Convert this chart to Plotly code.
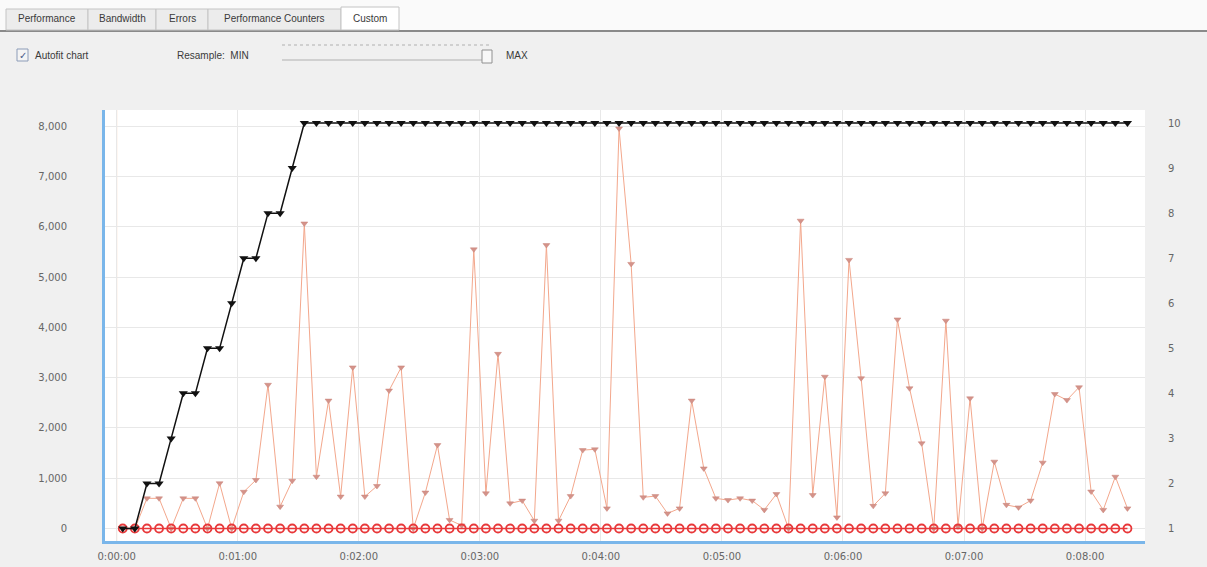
import plotly.graph_objects as go

# ---------------- data ----------------
sample_seconds = [3 + 6 * i for i in range(84)]

user_load = [1, 1, 2, 2, 3, 4, 4, 5, 5, 6, 7, 7, 8, 8, 9] + [10] * 69

orange_values = [
    0, 0, 600, 600, 0, 600, 600, 0, 900, 0,
    730, 965, 2860, 435, 950, 6070, 1030, 2545, 635, 3205,
    635, 845, 2745, 3205, 0, 715, 1660, 170, 60, 5555,
    700, 3475, 500, 555, 155, 5640, 155, 645, 1560, 1575,
    400, 7960, 5265, 620, 645, 300, 400, 2545, 1195, 600,
    565, 600, 555, 370, 685, 0, 6125, 665, 3020, 220,
    5345, 2990, 450, 700, 4160, 2790, 1695, 0, 4135, 40,
    2590, 0, 1330, 470, 420, 555, 1310, 2675, 2555, 2810,
    735, 370, 1030, 400,
]

error_values = [0] * 84

x_tick_seconds = [0, 60, 120, 180, 240, 300, 360, 420, 480]
x_tick_labels = ["0:00:00", "0:01:00", "0:02:00", "0:03:00", "0:04:00",
                 "0:05:00", "0:06:00", "0:07:00", "0:08:00"]
left_ticks = [0, 1000, 2000, 3000, 4000, 5000, 6000, 7000, 8000]
right_ticks = [1, 2, 3, 4, 5, 6, 7, 8, 9, 10]

tab_labels = ["Performance", "Bandwidth", "Errors", "Performance Counters", "Custom"]

# ---------------- layout geometry (pixels) ----------------
W, H = 1207, 567
L, R, T, B = 105, 1145, 110, 541


def px(x):
    return (x - L) / (R - L)


def py(y):
    return (B - y) / (B - T)


fig = go.Figure()

fig.add_trace(go.Scatter(
    x=sample_seconds, y=orange_values, mode="lines+markers",
    line=dict(color="#f3a78c", width=1),
    marker=dict(symbol="triangle-down", size=6, color="#d4938a",
                line=dict(color="#c98378", width=0.5)),
    showlegend=False, yaxis="y",
))

fig.add_trace(go.Scatter(
    x=sample_seconds, y=error_values, mode="lines+markers",
    line=dict(color="#e8383a", width=1.5),
    marker=dict(symbol="circle-open", size=8, color="#e8383a",
                line=dict(width=1.8)),
    showlegend=False, yaxis="y",
))

fig.add_trace(go.Scatter(
    x=sample_seconds, y=user_load, mode="lines+markers",
    line=dict(color="#111111", width=1.5),
    marker=dict(symbol="triangle-down", size=8, color="#111111"),
    showlegend=False, yaxis="y2",
))

font_axis = dict(family="DejaVu Sans", size=10, color="#666666")

fig.update_layout(
    width=W, height=H,
    margin=dict(l=L, r=W - R, t=T, b=H - B, pad=0, autoexpand=False),
    paper_bgcolor="#f0f0f0",
    plot_bgcolor="#ffffff",
    xaxis=dict(
        range=[-5.8, 509.7], tickvals=x_tick_seconds, ticktext=x_tick_labels,
        showgrid=True, gridcolor="#e8e8e8", gridwidth=1, zeroline=False,
        showline=True, linecolor="#7ab6ea", linewidth=3,
        ticks="", tickfont=font_axis, ticklabelstandoff=4, automargin=False,
    ),
    yaxis=dict(
        range=[-249, 8328], tickvals=left_ticks, tickformat=",d",
        showgrid=True, gridcolor="#e8e8e8", gridwidth=1, zeroline=False,
        showline=True, linecolor="#7ab6ea", linewidth=3,
        ticks="", tickfont=font_axis, ticklabelstandoff=33, automargin=False,
    ),
    yaxis2=dict(
        range=[0.723, 10.29], tickvals=right_ticks, overlaying="y", side="right",
        showgrid=False, zeroline=False, showline=False,
        ticks="", tickfont=font_axis, ticklabelstandoff=22, automargin=False,
    ),
)

# faint start marker line
fig.add_shape(type="line", xref="x", yref="paper", x0=0, x1=0, y0=0, y1=1,
              line=dict(color="#f6d2b8", width=1), layer="below")

ui_font = dict(family="Liberation Sans", size=10, color="#3a3a3a")

shapes = []
annotations = []

# tab bar
tab_edges = [(6, 88), (88, 156), (156, 208), (208, 341), (341, 399)]
shapes.append(dict(type="rect", xref="paper", yref="paper",
                   x0=px(0), x1=px(W), y0=py(30), y1=py(0),
                   fillcolor="#fafafa", line=dict(width=0)))
shapes.append(dict(type="line", xref="paper", yref="paper",
                   x0=px(0), x1=px(W), y0=py(31), y1=py(31),
                   line=dict(color="#8a8a8a", width=2)))
for (x0, x1), lab in zip(tab_edges, tab_labels):
    active = lab == "Custom"
    shapes.append(dict(type="rect", xref="paper", yref="paper",
                       x0=px(x0), x1=px(x1), y0=py(30), y1=py(7 if active else 9),
                       fillcolor="#ffffff" if active else "#ececec",
                       line=dict(color="#c4c4c4", width=1)))
    annotations.append(dict(text=lab, xref="paper", yref="paper",
                            x=px((x0 + x1) / 2), y=py(18), showarrow=False,
                            xanchor="center", yanchor="middle", font=ui_font))

# checkbox
shapes.append(dict(type="rect", xref="paper", yref="paper",
                   x0=px(17), x1=px(28), y0=py(61), y1=py(49),
                   fillcolor="#f4f4f4", line=dict(color="#8c9cb8", width=1)))
annotations.append(dict(text="\u2713", xref="paper", yref="paper", x=px(22.5), y=py(55),
                        showarrow=False, xanchor="center", yanchor="middle",
                        font=dict(family="DejaVu Sans", size=10, color="#4a5a8a")))
annotations.append(dict(text="Autofit chart", xref="paper", yref="paper", x=px(33), y=py(55),
                        showarrow=False, xanchor="left", yanchor="middle", font=ui_font))
annotations.append(dict(text="Resample:  MIN", xref="paper", yref="paper", x=px(175), y=py(55),
                        showarrow=False, xanchor="left", yanchor="middle", font=ui_font))
annotations.append(dict(text="MAX", xref="paper", yref="paper", x=px(504), y=py(55),
                        showarrow=False, xanchor="left", yanchor="middle", font=ui_font))
# slider
shapes.append(dict(type="line", xref="paper", yref="paper",
                   x0=px(282), x1=px(492), y0=py(60), y1=py(60),
                   line=dict(color="#b0b0b0", width=1)))
shapes.append(dict(type="line", xref="paper", yref="paper",
                   x0=px(282), x1=px(492), y0=py(45), y1=py(45),
                   line=dict(color="#d0d0d0", width=2, dash="dot")))
shapes.append(dict(type="rect", xref="paper", yref="paper",
                   x0=px(482), x1=px(492), y0=py(63), y1=py(50),
                   fillcolor="#f8f8f8", line=dict(color="#909090", width=1)))

for s in shapes:
    fig.add_shape(**s)
for a in annotations:
    fig.add_annotation(**a)

fig.write_html("out.html", config={"displayModeBar": False},
               post_script="document.body.style.margin='0';")
